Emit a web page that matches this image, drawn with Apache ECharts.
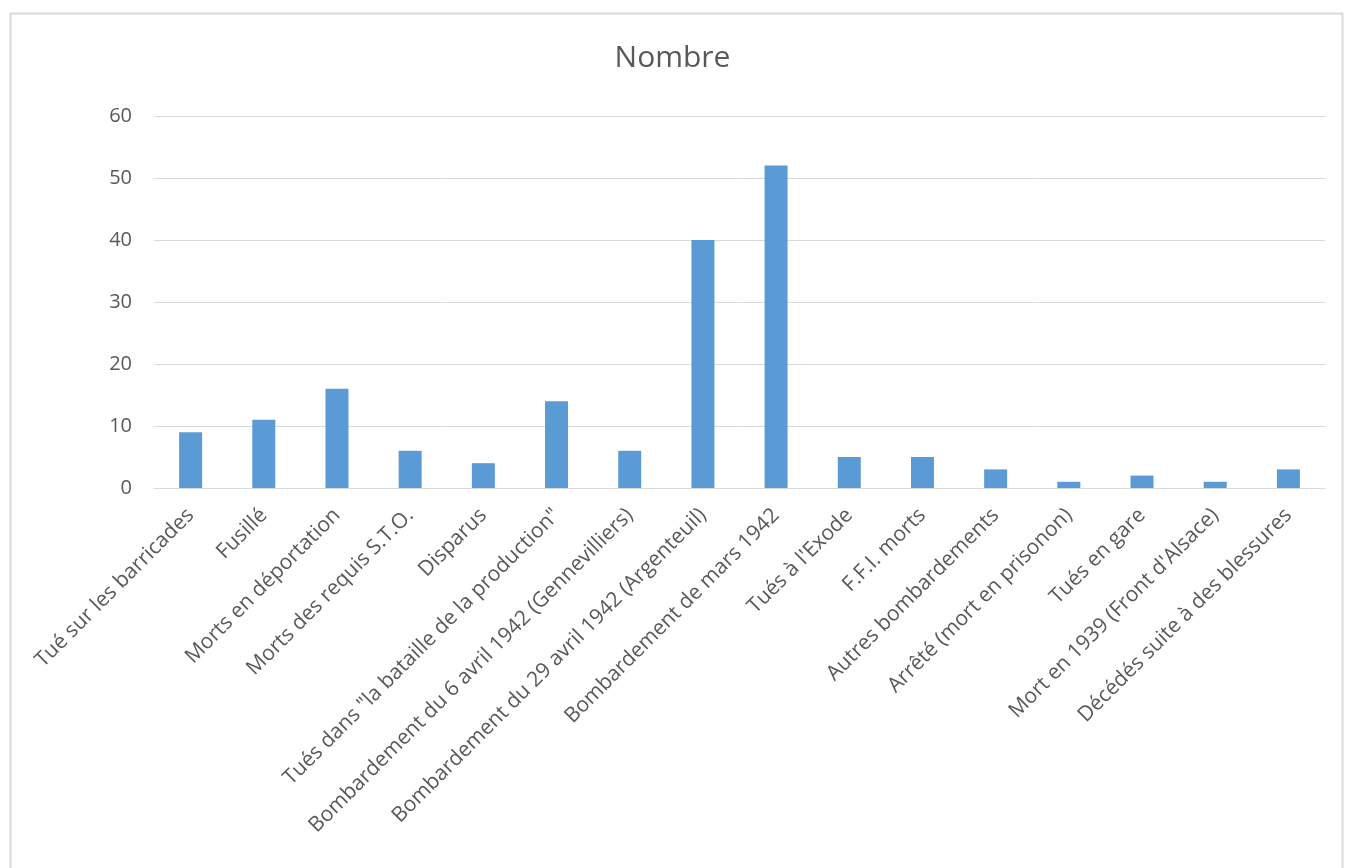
<!DOCTYPE html>
<html><head><meta charset="utf-8">
<script src="https://cdn.jsdelivr.net/npm/echarts@6/dist/echarts.min.js"></script>
<style>html,body{margin:0;padding:0;background:#fff}#c{width:1345px;height:868px}</style>
</head><body><div id="c"></div>
<script>
const categories = ["Tué sur les barricades","Fusillé","Morts en déportation","Morts des requis S.T.O.","Disparus","Tués dans \"la bataille de la production\"","Bombardement du 6 avril 1942 (Gennevilliers)","Bombardement du 29 avril 1942 (Argenteuil)","Bombardement de mars 1942","Tués à l'Exode","F.F.I. morts","Autres bombardements","Arrêté (mort en prisonon)","Tués en gare","Mort en 1939 (Front d'Alsace)","Décédés suite à des blessures"];
const values = [9,11,16,6,4,14,6,40,52,5,5,3,1,2,1,3];
const chartTitle = "Nombre";
const chart = echarts.init(document.getElementById('c'));
const font = "'Open Sans', 'Noto Sans', sans-serif";
chart.setOption({
  animation:false,
  title:{text:chartTitle,left:'center',top:38,textStyle:{fontFamily:font,fontSize:30,fontWeight:'normal',color:'#595959'}},
  graphic:[{type:'rect',shape:{x:10.5,y:13.5,width:1332,height:900},style:{fill:'none',stroke:'#d9d9d9',lineWidth:2},silent:true}],
  grid:{left:154,right:20,top:116,bottom:380,containLabel:false},
  xAxis:{type:'category',data:categories,axisTick:{show:false},axisLine:{lineStyle:{color:'#d9d9d9'}},
    axisLabel:{rotate:45,interval:0,fontFamily:font,fontSize:21,color:'#595959',margin:24}},
  yAxis:{type:'value',min:0,max:60,interval:10,axisLine:{show:false},axisTick:{show:false},
    splitLine:{lineStyle:{color:'#d9d9d9'}},
    axisLabel:{fontFamily:font,fontSize:20,color:'#595959',margin:22}},
  series:[{type:'bar',data:values,barWidth:23,itemStyle:{color:'#5b9bd5'}}]
});
</script></body></html>
